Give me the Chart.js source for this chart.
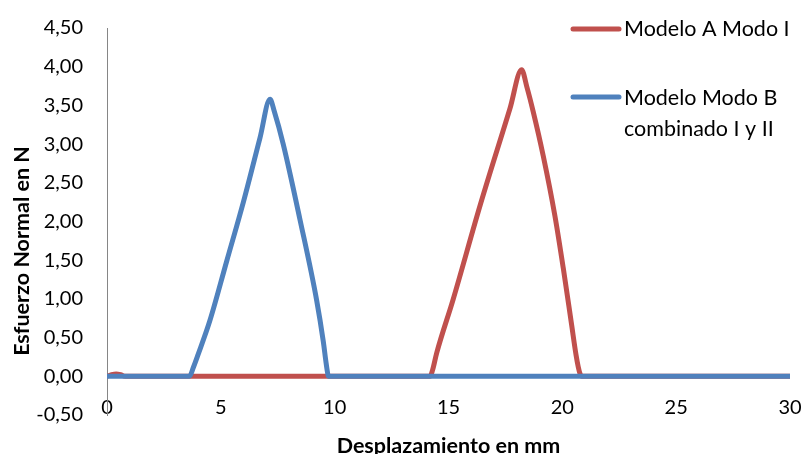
<!DOCTYPE html>
<html lang="es">
<head>
<meta charset="UTF-8" />
<title>Esfuerzo Normal vs Desplazamiento</title>
<script src="https://cdn.jsdelivr.net/npm/chart.js"></script>
<style>
  body { margin: 0; background: #fff; }
  #wrap { width: 802px; height: 454px; }
</style>
</head>
<body>
<div id="wrap"><canvas id="chart" width="802" height="454"></canvas></div>
<script>
// data
const redLabel = "Modelo A Modo I";
const redX = [0, 0.2, 0.4, 0.6, 0.8, 14.19, 14.3, 14.48, 15.2, 16.4, 17.7, 18.21, 18.45, 18.72, 19.16, 19.67, 20.04, 20.41, 20.6, 20.7, 20.78, 20.85, 30];
const redY = [0, 0.02, 0.03, 0.02, 0, 0, 0.08, 0.30, 0.99, 2.22, 3.46, 3.96, 3.73, 3.42, 2.85, 2.08, 1.40, 0.66, 0.28, 0.12, 0.03, 0, 0];

const blueLabel = ["Modelo Modo B", "combinado I y II"];
const blueX = [0, 3.62, 3.8, 4.0, 4.52, 5.26, 5.99, 6.72, 7.16, 7.35, 7.74, 8.48, 9.21, 9.5, 9.62, 9.68, 9.72, 30];
const blueY = [0, 0, 0.12, 0.28, 0.72, 1.49, 2.25, 3.08, 3.58, 3.42, 3.00, 2.02, 0.98, 0.45, 0.18, 0.06, 0, 0];

const xTitle = "Desplazamiento en mm";
const yTitle = "Esfuerzo Normal en N";

const RED = '#C0504D';
const BLUE = '#4F81BD';
const FONT = 'Lato, "Open Sans", sans-serif';

function pts(xs, ys) {
  return xs.map((x, i) => ({ x: x, y: ys[i] }));
}

// legend + y title drawn by hand so they can sit over the plot like the original
const extras = {
  id: 'extras',
  afterDraw(chart) {
    const ctx = chart.ctx;
    ctx.save();
    ctx.lineCap = 'round';
    ctx.lineWidth = 5;
    ctx.fillStyle = '#000';
    ctx.textBaseline = 'middle';
    ctx.font = '21.5px ' + FONT;

    ctx.strokeStyle = RED;
    ctx.beginPath(); ctx.moveTo(573, 29); ctx.lineTo(619, 29); ctx.stroke();
    ctx.fillText(redLabel, 624, 29);

    ctx.strokeStyle = BLUE;
    ctx.beginPath(); ctx.moveTo(573, 97); ctx.lineTo(619, 97); ctx.stroke();
    blueLabel.forEach((t, i) => ctx.fillText(t, 624, 98 + i * 31));

    ctx.translate(22, 251);
    ctx.rotate(-Math.PI / 2);
    ctx.textAlign = 'center';
    ctx.font = 'bold 21.5px ' + FONT;
    ctx.fillText(yTitle, 0, 0);
    ctx.restore();
  }
};

const lineStyle = {
  showLine: true,
  borderWidth: 5,
  pointRadius: 0,
  cubicInterpolationMode: 'monotone',
  borderCapStyle: 'round',
  borderJoinStyle: 'round'
};

new Chart(document.getElementById('chart'), {
  type: 'scatter',
  data: {
    datasets: [
      Object.assign({
        label: redLabel,
        data: pts(redX, redY),
        borderColor: RED,
        backgroundColor: RED,
        order: 2
      }, lineStyle),
      Object.assign({
        label: blueLabel.join(' '),
        data: pts(blueX, blueY),
        borderColor: BLUE,
        backgroundColor: BLUE,
        order: 1
      }, lineStyle)
    ]
  },
  options: {
    responsive: false,
    animation: false,
    layout: { padding: { top: 11, right: 12, left: 0, bottom: 0 } },
    plugins: { legend: { display: false }, tooltip: { enabled: false } },
    scales: {
      x: {
        type: 'linear',
        min: 0, max: 30,
        grid: { display: false },
        border: { display: false },
        // mirrored so the labels can sit just above the bottom edge, as in the original
        ticks: { stepSize: 5, color: '#000', font: { family: FONT, size: 20 }, mirror: true, padding: -5 },
        title: { display: true, text: xTitle, color: '#000', font: { family: FONT, size: 21.5, weight: 'bold', lineHeight: 0.7 }, padding: 0 },
        afterFit(s) { s.height = 39; }
      },
      y: {
        min: -0.5, max: 4.5,
        grid: { display: false },
        border: { display: true, color: '#868686', width: 1 },
        ticks: {
          stepSize: 0.5, color: '#000', padding: 16,
          font: { family: FONT, size: 20 },
          callback: v => v.toFixed(2).replace('.', ',')
        },
        afterFit(s) { s.width = 107; }
      }
    }
  },
  plugins: [extras]
});
</script>
</body>
</html>
